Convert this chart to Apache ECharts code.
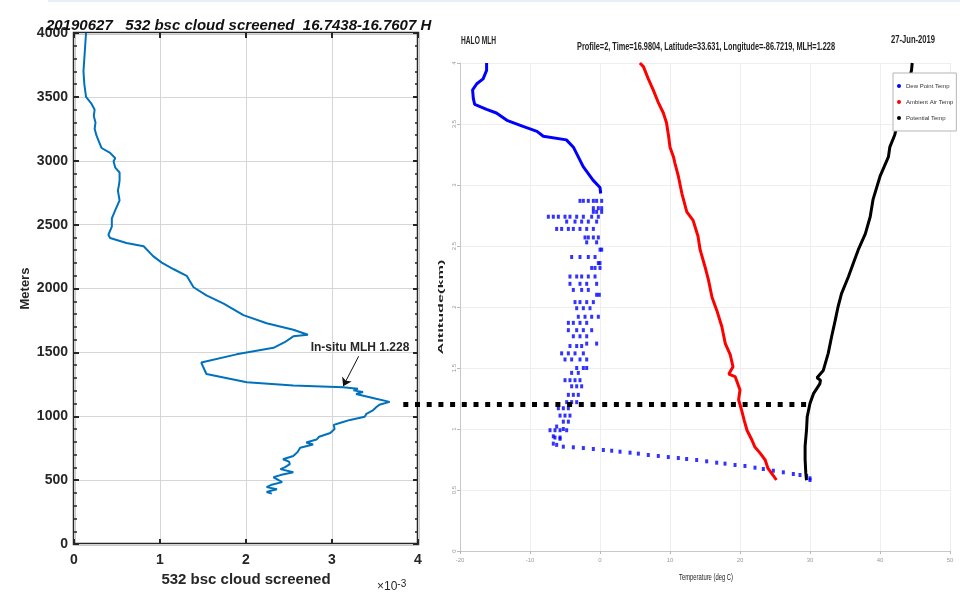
<!DOCTYPE html>
<html>
<head>
<meta charset="utf-8">
<script src="https://cdn.jsdelivr.net/npm/echarts@6/dist/echarts.min.js"></script>
<style>
  html, body { margin: 0; padding: 0; background: #fff; }
  #chart { width: 960px; height: 592px; }
</style>
</head>
<body>
<div id="chart"></div>
<script>
// left panel: lidar backscatter (x10^-3) vs altitude (m)
var bscAlt = [4000, 3900, 3800, 3700, 3600, 3500, 3450, 3400, 3350, 3300, 3250, 3200, 3150, 3100, 3062, 3020, 2997, 2946, 2908, 2844, 2800, 2767, 2690, 2613, 2549, 2485, 2421, 2395, 2356, 2331, 2254, 2203, 2151, 2100, 2010, 1946, 1882, 1792, 1728, 1677, 1638, 1626, 1580, 1536, 1485, 1421, 1390, 1331, 1267, 1241, 1228, 1215, 1203, 1190, 1175, 1164, 1140, 1113, 1090, 1075, 1049, 1020, 997, 972, 950, 933, 900, 869, 840, 818, 795, 779, 754, 720, 690, 664, 645, 626, 600, 587, 562, 540, 523, 500, 485, 465, 446, 430, 420, 408, 395]
var bscVal = [0.14, 0.13, 0.12, 0.11, 0.12, 0.14, 0.20, 0.24, 0.23, 0.25, 0.24, 0.26, 0.29, 0.32, 0.42, 0.48, 0.46, 0.48, 0.53, 0.53, 0.52, 0.51, 0.53, 0.48, 0.44, 0.44, 0.40, 0.42, 0.61, 0.81, 0.92, 1.02, 1.16, 1.31, 1.39, 1.54, 1.74, 1.97, 2.24, 2.55, 2.72, 2.55, 2.45, 2.32, 1.89, 1.48, 1.50, 1.54, 2.01, 2.55, 3.13, 3.30, 3.25, 3.36, 3.28, 3.29, 3.50, 3.67, 3.55, 3.52, 3.48, 3.40, 3.38, 3.21, 3.10, 3.02, 3.03, 2.98, 2.85, 2.82, 2.70, 2.78, 2.63, 2.60, 2.55, 2.43, 2.50, 2.51, 2.45, 2.40, 2.55, 2.40, 2.32, 2.38, 2.42, 2.30, 2.24, 2.36, 2.30, 2.24, 2.30]
var mlhArrow = [[3.31, 1470], [3.13, 1236]]

// right panel: sounding profile, [temperature degC, altitude km]
var dewTop = [[-16.2, 4.0], [-16.2, 3.94], [-16.7, 3.87], [-17.6, 3.83], [-18.2, 3.78], [-18.1, 3.71], [-17.9, 3.66], [-16.2, 3.62], [-14.8, 3.59], [-13.3, 3.53], [-11.0, 3.48], [-9.0, 3.44], [-8.1, 3.40], [-4.8, 3.37], [-3.8, 3.31], [-3.1, 3.23], [-2.4, 3.15], [-1.0, 3.04], [0.0, 2.98], [0.1, 2.93]]
var dewScatter = [
  [-2.86, 2.87], [-2.38, 2.87], [-1.67, 2.87], [-0.95, 2.87], [-0.48, 2.87], [0.24, 2.87],
  [-0.95, 2.81], [-0.24, 2.81], [0.24, 2.81], [-0.95, 2.78], [-0.48, 2.78], [0.24, 2.78],
  [-7.38, 2.74], [-6.67, 2.74], [-5.95, 2.74], [-5.0, 2.74], [-4.29, 2.74], [-3.33, 2.74], [-2.38, 2.74], [-1.19, 2.74], [-0.24, 2.74],
  [-4.76, 2.70], [-3.57, 2.70], [-2.62, 2.70], [-1.67, 2.70], [-0.48, 2.70],
  [-6.19, 2.64], [-5.48, 2.64], [-4.52, 2.64], [-3.81, 2.64], [-2.86, 2.64], [-1.90, 2.64], [-0.95, 2.64],
  [-2.14, 2.57], [-1.67, 2.57], [-0.95, 2.57], [-0.24, 2.57], [-1.90, 2.53], [-0.48, 2.53],
  [0.0, 2.47], [0.24, 2.47], [-4.05, 2.41], [-2.86, 2.41], [-1.67, 2.41], [-0.71, 2.41],
  [-0.24, 2.36], [0.0, 2.36], [-1.19, 2.32], [-0.71, 2.32], [0.0, 2.32],
  [-4.29, 2.25], [-3.33, 2.25], [-2.62, 2.25], [-1.67, 2.25], [-0.71, 2.25],
  [-4.29, 2.19], [-2.86, 2.19], [-1.90, 2.19], [-0.48, 2.19], [-3.81, 2.14], [-2.62, 2.14], [-1.67, 2.14],
  [-0.48, 2.10], [-0.10, 2.10], [-3.57, 2.04], [-2.86, 2.04], [-1.90, 2.04], [-0.95, 2.04],
  [-3.33, 1.99], [-2.38, 1.99], [-1.43, 1.99], [-3.10, 1.92], [-2.14, 1.92], [-1.19, 1.92], [-0.24, 1.92],
  [-4.52, 1.87], [-3.81, 1.87], [-2.86, 1.87], [-1.90, 1.87], [-4.52, 1.81], [-3.33, 1.81], [-2.38, 1.81], [-1.19, 1.81],
  [-3.81, 1.76], [-2.86, 1.76], [-1.90, 1.76], [-1.90, 1.70], [-0.48, 1.70], [-4.29, 1.68], [-3.33, 1.68], [-2.62, 1.68],
  [-5.48, 1.62], [-4.52, 1.62], [-3.57, 1.62], [-2.38, 1.62], [-5.0, 1.57], [-4.05, 1.57], [-2.86, 1.57], [-1.90, 1.57],
  [-3.33, 1.50], [-2.38, 1.50], [-1.90, 1.50], [-4.05, 1.46], [-3.10, 1.46],
  [-5.0, 1.40], [-4.29, 1.40], [-3.57, 1.40], [-2.86, 1.40], [-4.05, 1.35], [-3.33, 1.35], [-2.62, 1.35],
  [-4.52, 1.28], [-3.81, 1.28], [-3.10, 1.28], [-4.76, 1.22], [-4.05, 1.22], [-3.33, 1.22],
  [-5.95, 1.17], [-5.24, 1.17], [-4.52, 1.17], [-5.71, 1.11], [-5.0, 1.11], [-4.29, 1.11], [-5.24, 1.06], [-4.52, 1.06],
  [-6.19, 1.02], [-5.24, 1.00], [-7.14, 0.99], [-6.43, 0.99], [-5.71, 0.99], [-4.76, 0.99],
  [-6.67, 0.94], [-6.43, 0.93], [-5.71, 0.93], [-5.71, 0.92], [-6.67, 0.88], [-6.19, 0.87]
]
var dewBottom = [[-5.24, 0.855], [-3.81, 0.850], [-2.38, 0.844], [-0.95, 0.836], [0.48, 0.828], [1.67, 0.822], [2.86, 0.814], [4.29, 0.806], [5.48, 0.798], [6.90, 0.787], [8.33, 0.779], [9.76, 0.770], [11.19, 0.762], [12.38, 0.754], [13.81, 0.746], [15.24, 0.735], [16.67, 0.724], [17.86, 0.716], [19.29, 0.705], [20.71, 0.697], [22.14, 0.683], [23.33, 0.672], [24.76, 0.658], [26.19, 0.645], [27.62, 0.631], [28.57, 0.623], [29.52, 0.615], [30.0, 0.596], [30.0, 0.582]]
var ambient = [[5.7, 4.0], [6.2, 3.97], [6.9, 3.87], [7.6, 3.78], [8.3, 3.68], [9.05, 3.59], [9.5, 3.51], [9.8, 3.40], [10.0, 3.31], [10.5, 3.23], [10.7, 3.18], [11.2, 3.07], [11.7, 2.93], [12.4, 2.78], [13.3, 2.71], [14.0, 2.58], [14.3, 2.47], [15.0, 2.33], [15.5, 2.22], [16.0, 2.08], [16.7, 1.97], [17.4, 1.84], [17.9, 1.70], [18.6, 1.61], [19.0, 1.51], [18.4, 1.45], [19.3, 1.43], [19.5, 1.40], [20.0, 1.32], [19.8, 1.24], [20.2, 1.16], [20.6, 1.07], [21.0, 0.99], [21.7, 0.91], [22.1, 0.855], [22.9, 0.80], [23.6, 0.746], [24.0, 0.677], [24.7, 0.623], [25.2, 0.582]]
var potential = [[44.6, 4.0], [44.5, 3.94], [42.1, 3.41], [41.4, 3.31], [41.2, 3.23], [40.6, 3.15], [40.0, 3.07], [39.0, 2.88], [38.6, 2.74], [37.9, 2.60], [36.9, 2.47], [36.2, 2.36], [35.5, 2.25], [34.5, 2.11], [34.0, 2.00], [33.6, 1.89], [33.1, 1.76], [32.6, 1.62], [31.9, 1.48], [31.0, 1.42], [31.5, 1.40], [31.4, 1.37], [30.5, 1.29], [30.0, 1.21], [29.6, 1.10], [29.5, 0.99], [29.3, 0.86], [29.3, 0.75], [29.4, 0.64], [29.5, 0.58]]
var mlhDash = [[-28.1, 1.2], [29.5, 1.2]]
var legendNames = ['Dew Point Temp', 'Ambient Air Temp', 'Potential Temp']

var arialFamily = "Liberation Sans"
var arial = "'Liberation Sans', Arial, sans-serif"
var dark = '#262626'

var chart = echarts.init(document.getElementById('chart'), null, { renderer: 'canvas' })

// the right-hand figure uses a condensed face: squeeze normal text to the width it takes there
var measure = document.createElement('canvas').getContext('2d')
function narrowText(text, size, weight, x, y, width, align, rotation) {
  measure.font = weight + ' ' + size + 'px ' + arial
  return {
    type: 'text', x: x, y: y, silent: true,
    rotation: rotation || 0,
    scaleX: width / measure.measureText(text).width,
    style: {
      text: text, fontFamily: arialFamily, fontSize: size, fontWeight: weight,
      fill: '#222', align: align || 'left', verticalAlign: 'top'
    }
  }
}

function boxAxis(pos, interval, len, extra) {
  var vertical = pos === 'left' || pos === 'right'
  return Object.assign({
    type: 'value', gridIndex: 0, position: pos,
    min: 0, max: vertical ? 4000 : 4, interval: interval,
    axisLine: { show: false, onZero: false },
    axisTick: { show: true, inside: true, length: len, lineStyle: { color: dark, width: len > 4 ? 2 : 1.5 } },
    axisLabel: { show: false },
    splitLine: { show: false }
  }, extra || {})
}

var boxLabel = { show: true, fontFamily: arial, fontSize: 14, fontWeight: 'bold', color: dark }
var faint = {
  axisLine: { show: true, onZero: false, lineStyle: { color: '#c8c8c8', width: 1 } },
  axisTick: { show: true, length: 3, lineStyle: { color: '#b8b8b8' } },
  splitLine: { show: true, lineStyle: { color: '#eeeeee', width: 1 } }
}

chart.setOption({
  animation: false,
  backgroundColor: '#fff',
  title: [{
    text: '20190627   532 bsc cloud screened  16.7438-16.7607 H',
    left: 41, top: 13,
    textStyle: { fontFamily: arial, fontSize: 15, fontWeight: 'bold', fontStyle: 'italic', color: '#111' }
  }],
  legend: {
    data: legendNames,
    orient: 'vertical',
    left: 893, top: 73,
    padding: [10, 3, 10, 4],
    itemGap: 10,
    itemWidth: 4, itemHeight: 4,
    icon: 'circle',
    backgroundColor: '#fff',
    borderColor: '#b5b5b5', borderWidth: 1,
    textStyle: { fontFamily: arial, fontSize: 6, color: '#333' }
  },
  grid: [
    { left: 74, top: 33, width: 344, height: 520, show: true, backgroundColor: '#fff', borderColor: dark, borderWidth: 2.5 },
    { left: 460, top: 63, width: 490, height: 488 },
    // overlay on the temperature scale, widened left so the MLH marker can reach the lidar panel
    { left: 403.3, top: 63, width: 546.7, height: 488 }
  ],
  xAxis: [
    boxAxis('bottom', 1, 5, {
      name: '532 bsc cloud screened', nameLocation: 'middle', nameGap: 25,
      nameTextStyle: { fontFamily: arial, fontSize: 15, fontWeight: 'bold', color: dark },
      axisLabel: Object.assign({ margin: 9 }, boxLabel),
      splitLine: { show: true, lineStyle: { color: '#d6d6d6', width: 1 } }
    }),
    boxAxis('top', 1, 5),
    Object.assign({
      type: 'value', gridIndex: 1, min: -20, max: 50, interval: 10,
      axisLabel: { fontFamily: arial, fontSize: 6, color: '#999', margin: 6 }
    }, faint),
    { type: 'value', gridIndex: 2, min: -28.1, max: 50, show: false }
  ],
  yAxis: [
    boxAxis('left', 500, 5, {
      name: 'Meters', nameLocation: 'middle', nameGap: 42,
      nameTextStyle: { fontFamily: arial, fontSize: 13, fontWeight: 'bold', color: dark },
      axisLabel: Object.assign({ margin: 6, formatter: function (v) { return String(v) } }, boxLabel),
      splitLine: { show: true, lineStyle: { color: '#d6d6d6', width: 1 } }
    }),
    boxAxis('right', 500, 5),
    boxAxis('left', 100, 3),
    boxAxis('right', 100, 3),
    Object.assign({
      type: 'value', gridIndex: 1, min: 0, max: 4, interval: 0.5,
      axisLabel: { fontFamily: arial, fontSize: 6, color: '#999', rotate: 90, margin: 3 }
    }, faint),
    { type: 'value', gridIndex: 2, min: 0, max: 4, show: false }
  ],
  series: [
    {
      name: 'bsc', type: 'line', xAxisIndex: 0, yAxisIndex: 0,
      data: bscAlt.map(function (a, i) { return [bscVal[i], a] }),
      symbol: 'none',
      lineStyle: { color: '#0072BD', width: 2 },
      markLine: {
        silent: true,
        symbol: ['none', 'arrow'], symbolSize: 8,
        lineStyle: { color: '#111', width: 1, type: 'solid' },
        label: {
          show: true, position: 'start', distance: 3,
          formatter: 'In-situ MLH 1.228',
          fontFamily: arial, fontSize: 12, fontWeight: 'bold', color: dark
        },
        data: [[{ coord: mlhArrow[0] }, { coord: mlhArrow[1] }]]
      }
    },
    {
      name: 'Dew Point Temp', type: 'line', xAxisIndex: 2, yAxisIndex: 4,
      data: dewTop, symbol: 'none', itemStyle: { color: '#0000ff' },
      lineStyle: { color: '#0000ff', width: 3 }
    },
    {
      name: 'Dew Point Temp', type: 'scatter', xAxisIndex: 2, yAxisIndex: 4,
      data: dewScatter.concat(dewBottom), symbol: 'rect', symbolSize: [3, 4],
      itemStyle: { color: '#0000ff' }
    },
    {
      name: 'Ambient Air Temp', type: 'line', xAxisIndex: 2, yAxisIndex: 4,
      data: ambient, symbol: 'none', itemStyle: { color: '#ff0000' },
      lineStyle: { color: '#ff0000', width: 3 }
    },
    {
      name: 'Potential Temp', type: 'line', xAxisIndex: 2, yAxisIndex: 4,
      data: potential, symbol: 'none', itemStyle: { color: '#000' },
      lineStyle: { color: '#000', width: 3 }
    },
    {
      name: 'MLH', type: 'line', xAxisIndex: 3, yAxisIndex: 5,
      data: mlhDash, symbol: 'none', clip: false, z: 10, silent: true,
      lineStyle: { color: '#000', width: 5, type: [5, 6.7] }
    }
  ],
  graphic: [
    { type: 'rect', shape: { x: 48, y: 0, width: 912, height: 2 }, style: { fill: '#e6eef8' }, silent: true },
    {
      type: 'text', left: 377, top: 579, silent: true,
      style: {
        text: '×10{s|-3}',
        rich: { s: { fontSize: 10, verticalAlign: 'top', padding: [0, 0, 6, 0] } },
        fontFamily: arialFamily, fontSize: 12, fill: dark
      }
    },
    narrowText('HALO MLH', 11, 'bold', 461, 35, 35),
    narrowText('Profile=2, Time=16.9804, Latitude=33.631, Longitude=-86.7219, MLH=1.228', 11, 'bold', 706, 41, 258, 'center'),
    narrowText('27-Jun-2019', 11, 'bold', 891, 34, 44),
    narrowText('Temperature (deg C)', 9, 'normal', 706, 573, 54, 'center'),
    narrowText('Altitude(km)', 7, 'bold', 438, 307, 95, 'center', Math.PI / 2)
  ]
})
</script>
</body>
</html>
